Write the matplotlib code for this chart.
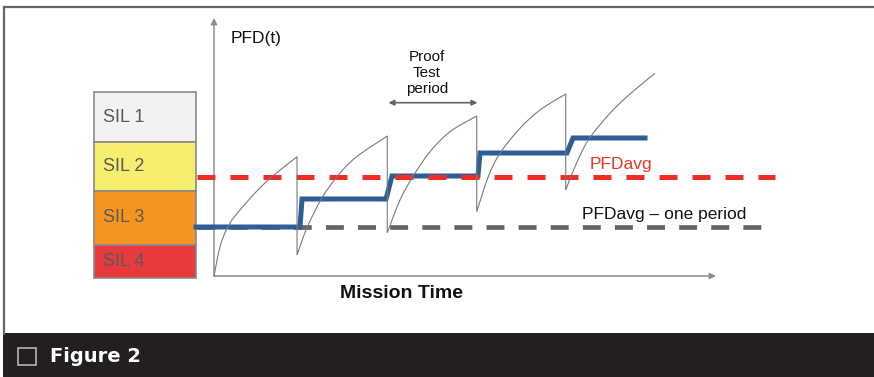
"""SIL / PFD(t) sawtooth diagram (Figure 2)"""

import matplotlib
matplotlib.use('Agg')
import matplotlib.pyplot as plt
import matplotlib.patches as mpatches
import matplotlib.transforms as mtransforms
from matplotlib.path import Path

plt.rcParams['font.family'] = ['Liberation Sans', 'DejaVu Sans']

### Data (time in proof-test periods, PFD in arbitrary units)

# PFD(t) sawtooth, one list per proof test period
tooth_t = [
    [0.0, 0.067, 0.143, 0.236, 0.461, 0.648, 0.933],
    [0.933, 1.042, 1.210, 1.397, 1.603, 1.947],
    [1.947, 2.090, 2.239, 2.427, 2.652, 2.952],
    [2.952, 3.082, 3.213, 3.438, 3.663, 3.952],
    [3.952, 4.056, 4.206, 4.449, 4.674, 4.955],
]
tooth_pfd = [
    [0.0, 0.29, 0.47, 0.60, 0.83, 0.99, 1.193],
    [0.21, 0.477, 0.777, 1.01, 1.193, 1.40],
    [0.433, 0.76, 1.0, 1.243, 1.443, 1.60],
    [0.643, 0.993, 1.227, 1.477, 1.66, 1.82],
    [0.86, 1.093, 1.36, 1.627, 1.82, 2.027],
]

# Average PFD per period (step line)
step_t = [-0.202, 0.966, 0.989, 1.933, 2.0, 2.966, 2.989, 3.966, 4.034, 4.843]
step_pfd = [0.49, 0.49, 0.77, 0.77, 1.0, 1.0, 1.23, 1.23, 1.38, 1.38]

# Reference levels
pfdavg = 0.99
pfdavg_one_period = 0.49
level_t = [-0.191, 6.30]

# SIL bands (PFD band edges, top to bottom)
sil_labels = ['SIL 1', 'SIL 2', 'SIL 3', 'SIL 4']
sil_edges = [1.84, 1.34, 0.85, 0.31, -0.02]
sil_colors = ['#f2f2f2', '#f6ee6e', '#f5951f', '#e83a3c']
sil_t = [-1.348, -0.202]

# axis extents
t_axis_end = 5.64
pfd_axis_end = 2.58
period_arrow = [1.96, 2.96]


### Helper functions

def smooth_path(xs, ys):
    """Catmull-Rom curve through the points, as cubic Bezier path"""
    pts = list(zip(xs, ys))
    verts = [pts[0]]
    codes = [Path.MOVETO]
    for i in range(len(pts) - 1):
        p0 = pts[i - 1] if i > 0 else pts[i]
        p1, p2 = pts[i], pts[i + 1]
        p3 = pts[i + 2] if i + 2 < len(pts) else pts[i + 1]
        c1 = (p1[0] + (p2[0] - p0[0]) / 6, p1[1] + (p2[1] - p0[1]) / 6)
        c2 = (p2[0] - (p3[0] - p1[0]) / 6, p2[1] - (p3[1] - p1[1]) / 6)
        verts += [c1, c2, p2]
        codes += [Path.CURVE4] * 3
    return verts, codes


### Figure

W, H = 874, 377
fig = plt.figure(figsize=(W / 100, H / 100), dpi=100)
fig.patch.set_facecolor('white')

# pixel transform for decorations
pix = mtransforms.Affine2D().scale(1 / W, -1 / H).translate(0, 1) + fig.transFigure

# frame + caption bar
fig.add_artist(plt.Line2D([3.5, 873], [6.5, 6.5], transform=pix, color='#666666', lw=1.6))
fig.add_artist(plt.Line2D([3.5, 3.5], [6.5, 334], transform=pix, color='#666666', lw=1.6))
fig.add_artist(mpatches.Rectangle((3, 333), W - 3, 44, transform=pix,
                                  facecolor='#231f20', edgecolor='none'))
fig.add_artist(mpatches.Rectangle((18, 347.5), 17.5, 17, transform=pix,
                                  facecolor='none', edgecolor='#b5b5b5', lw=1.2))
fig.text(50, 356, 'Figure 2', transform=pix, color='white', fontsize=14,
         fontweight='bold', family='DejaVu Sans', ha='left', va='center')

# main axes: data coords map so that period ~89px and 1 PFD unit ~100px
ax = fig.add_axes([0, 0, 1, 1])
ax.set_xlim(-214 / 89, (W - 214) / 89)
ax.set_ylim(-(H - 276) / 100, 276 / 100)
ax.axis('off')

# SIL bands
for i, label in enumerate(sil_labels):
    top, bottom = sil_edges[i], sil_edges[i + 1]
    ax.add_patch(mpatches.Rectangle((sil_t[0], bottom), sil_t[1] - sil_t[0], top - bottom,
                                    facecolor=sil_colors[i], edgecolor='#8a8a8a', lw=1.2))
    ax.text(sil_t[0] + 0.1, (top + bottom) / 2, label, fontsize=13, color='#5a5a5a',
            ha='left', va='center')

# axes with arrows
arrow_kw = dict(arrowstyle='-|>', color='#8c8c8c', lw=1.1, mutation_scale=9,
                shrinkA=0, shrinkB=0)
ax.annotate('', xy=(0, pfd_axis_end), xytext=(0, 0), arrowprops=arrow_kw)
ax.annotate('', xy=(t_axis_end, 0), xytext=(0, 0), arrowprops=arrow_kw)

# reference levels
ax.plot(level_t, [pfdavg_one_period] * 2, color='#666666', lw=3.4,
        dashes=(3.8, 3.0), zorder=2)
ax.plot(step_t, step_pfd, color='#2f5d95', lw=3.6, solid_joinstyle='miter', zorder=3)
ax.plot(level_t, [pfdavg] * 2, color='#ee2d24', lw=3.6, dashes=(3.6, 3.0), zorder=4)

# sawtooth PFD(t): smooth rise in each period, vertical drop at proof test
all_verts, all_codes = [], []
for k in range(len(tooth_t)):
    verts, codes = smooth_path(tooth_t[k], tooth_pfd[k])
    if k > 0:
        codes[0] = Path.LINETO  # drop from previous peak
    all_verts += verts
    all_codes += codes
ax.add_patch(mpatches.PathPatch(Path(all_verts, all_codes), facecolor='none',
                                edgecolor='#7a7a7a', lw=0.8, zorder=5))

# proof test period arrow
ax.annotate('', xy=(period_arrow[1], 1.733), xytext=(period_arrow[0], 1.733),
            arrowprops=dict(arrowstyle='<|-|>', color='#666666', lw=1.2,
                            mutation_scale=8, shrinkA=0, shrinkB=0))

# labels
fig.text(231, 39, 'PFD(t)', transform=pix, fontsize=12.5, color='#111111',
         ha='left', va='center')
fig.text(427, 73, 'Proof\nTest\nperiod', transform=pix, fontsize=11, color='#111111',
         ha='center', va='center', linespacing=1.15)
fig.text(401, 293, 'Mission Time', transform=pix, fontsize=14, fontweight='bold',
         color='#111111', ha='center', va='center')
fig.text(590, 164, 'PFDavg', transform=pix, fontsize=12.5, color='#ee3524',
         ha='left', va='center')
fig.text(582, 215, 'PFDavg \u2013 one period', transform=pix, fontsize=12.5,
         color='#111111', ha='left', va='center')

fig.savefig('out.png', dpi=100)
